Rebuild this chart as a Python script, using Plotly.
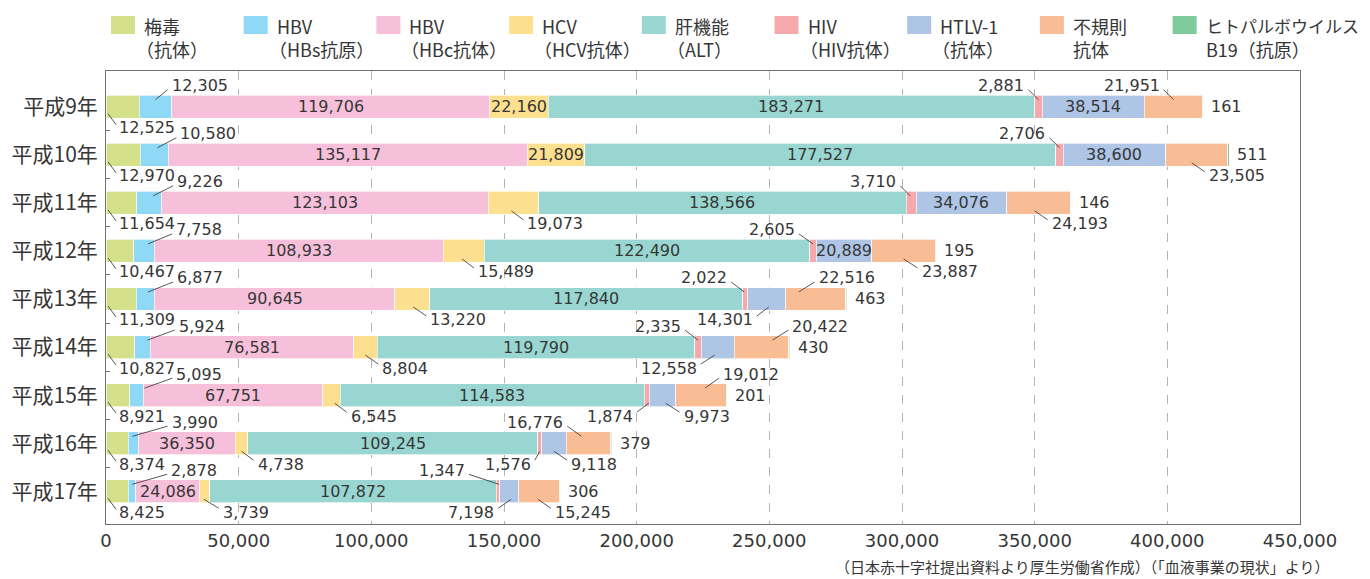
import plotly.graph_objects as go

# ---------------------------------------------------------------------------
# data (献血者の検査で不合格となった件数)

years = ['平成9年', '平成10年', '平成11年', '平成12年', '平成13年',
         '平成14年', '平成15年', '平成16年', '平成17年']

legend_top = ['梅毒', 'HBV', 'HBV', 'HCV', '肝機能', 'HIV', 'HTLV-1', '不規則', 'ヒトパルボウイルス']
legend_bottom = ['（抗体）', '（HBs抗原）', '（HBc抗体）', '（HCV抗体）', '（ALT）',
                 '（HIV抗体）', '（抗体）', '抗体', 'B19（抗原）']

syphilis = [12525, 12970, 11654, 10467, 11309, 10827, 8921, 8374, 8425]
hbs_antigen = [12305, 10580, 9226, 7758, 6877, 5924, 5095, 3990, 2878]
hbc_antibody = [119706, 135117, 123103, 108933, 90645, 76581, 67751, 36350, 24086]
hcv = [22160, 21809, 19073, 15489, 13220, 8804, 6545, 4738, 3739]
alt = [183271, 177527, 138566, 122490, 117840, 119790, 114583, 109245, 107872]
hiv = [2881, 2706, 3710, 2605, 2022, 2335, 1874, 1576, 1347]
htlv1 = [38514, 38600, 34076, 20889, 14301, 12558, 9973, 9118, 7198]
irregular = [21951, 23505, 24193, 23887, 22516, 20422, 19012, 16776, 15245]
parvo_b19 = [161, 511, 146, 195, 463, 430, 201, 379, 306]

series = [syphilis, hbs_antigen, hbc_antibody, hcv, alt, hiv, htlv1, irregular, parvo_b19]

colors = ['#d5e08b', '#8fd8f6', '#f7c0da', '#fde08f', '#99d6d2',
          '#f5a9ad', '#aec5e6', '#f9bd95', '#7fcb9b']

# where each value label goes: 'in' inside, 'rt' after bar end,
# ('b0',) below at the axis, (kind, start px, leader length px)
placement = [
    [('b0',), ('ar', 0, 12), 'in', 'in', 'in', ('al', 0, 10), 'in', ('al', 0, 10), 'rt'],
    [('b0',), ('ar', 3, 19), 'in', 'in', 'in', ('al', 0, 10), 'in', ('br', -5, 13), 'rt'],
    [('b0',), ('ar', 4, 20), 'in', ('br', -2, 12), 'in', ('al', -1, 10), 'in', ('br', -4, 13), 'rt'],
    [('b0',), ('ar', 4, 24), 'in', ('br', -2, 12), 'in', ('al', 0, 14), 'in', ('br', 0, 14), 'rt'],
    [('b0',), ('ar', 3, 25), 'in', ('br', 1, 13), 'in', ('al', -1, 13), ('bl', 2, 12), ('ar', -17, 16), 'rt'],
    [('b0',), ('ar', 5, 27), 'in', ('br', 0, 13), 'in', ('al', 0, 13), ('bl', -3, 14), ('ar', 11, 16), 'rt'],
    [('b0',), ('ar', 8, 28), 'in', ('br', 3, 12), 'in', ('bl', 2, 12), ('br', 3, 14), ('ar', 4, 14), 'rt'],
    [('b0',), ('ar', -1, 35), 'in', ('br', 0, 12), 'in', ('bl', 0, 5), ('br', 0, 13), ('al', -7, 14), 'rt'],
    [('b0',), ('ar', 0, 35), 'in', ('br', -1, 15), 'in', ('al', 1, 30), ('bl', 2, 13), ('br', -1, 13), 'rt'],
]

# ---------------------------------------------------------------------------

# the page puts the plot 8px in from the window corner
OFF = 8
W, H = 1370 - OFF, 579 - OFF
ML, MR, MT, MB = 106 - OFF, 70, 71 - OFF, 55
PW, PH = W - ML - MR, H - MT - MB

NUM_FONT = 'DejaVu Sans, Noto Sans CJK JP'
JP_FONT = 'Noto Sans CJK JP, DejaVu Sans'
TXT = '#363636'

rows = list(range(len(years)))

fig = go.Figure()
for vals, name, col in zip(series, legend_top, colors):
    fig.add_trace(go.Bar(y=rows, x=vals, orientation='h', name=name, width=0.478,
                         marker=dict(color=col, line=dict(width=0.8, color='rgba(255,255,255,0.8)')),
                         hoverinfo='x+name', showlegend=False))


def px2paper(px, py):
    # window pixel -> paper fraction
    return (px - OFF - ML) / PW, (MT + PH - (py - OFF)) / PH


annotations = []
shapes = []


def leader(xa, ya, sx0, sy0, sx1, sy1):
    # screen offsets (y down) -> pixel sizemode (y up)
    shapes.append(dict(type='line', xref='x', yref='y', xsizemode='pixel', ysizemode='pixel',
                       xanchor=xa, yanchor=ya, x0=sx0, x1=sx1, y0=-sy0, y1=-sy1,
                       line=dict(color='#444', width=0.9)))


def label(x, y, text, dx=0, dy=0, anchor='center'):
    annotations.append(dict(x=x, y=y, xref='x', yref='y', text=text, showarrow=False,
                            xanchor=anchor, yanchor='middle', xshift=dx, yshift=-dy,
                            font=dict(family=NUM_FONT, size=16, color=TXT)))


for r in rows:
    left = 0
    total = sum(s[r] for s in series)
    for k, vals in enumerate(series):
        v = vals[r]
        mid = left + v / 2
        txt = f'{v:,}'
        p = placement[r][k]
        if p == 'in':
            label(mid, r, txt)
        elif p == 'rt':
            label(total, r, txt, dx=6, anchor='left')
        elif p[0] == 'b0':
            leader(0, r, 2, 7, 10, 18)
            label(0, r, txt, dx=11, dy=21, anchor='left')
        else:
            kind, s, ln = p
            up = kind[0] == 'a'
            sign = 1 if kind[1] == 'r' else -1
            y0, y1, ty = (-7, -17, -21) if up else (8, 17, 21)
            leader(mid, r, s, y0, s + sign * ln, y1)
            label(mid, r, txt, dx=s + sign * (ln + 2), dy=ty,
                  anchor='left' if sign > 0 else 'right')
        left += v

# legend drawn by hand (big swatches, two-line captions)
for i, (t1, t2, col) in enumerate(zip(legend_top, legend_bottom, colors)):
    sx = 111 + 132.7 * i
    xa, ya = px2paper(sx, 16)
    xb, yb = px2paper(sx + 24, 34)
    shapes.append(dict(type='rect', xref='paper', yref='paper', x0=xa, x1=xb, y0=yb, y1=ya,
                       fillcolor=col, line=dict(width=0)))
    tx, ty1 = px2paper(sx + 31, 25.5)
    tx2, ty2 = px2paper(sx + 31 - (8 if t2.startswith('（') else 0), 49)
    fs = 17 if len(t1) > 6 else 18
    annotations.append(dict(x=tx, y=ty1, xref='paper', yref='paper', text=t1, showarrow=False,
                            xanchor='left', yanchor='middle',
                            font=dict(family=JP_FONT, size=fs, color=TXT)))
    annotations.append(dict(x=tx2, y=ty2, xref='paper', yref='paper', text=t2, showarrow=False,
                            xanchor='left', yanchor='middle',
                            font=dict(family=JP_FONT, size=18, color=TXT)))

sx, sy = px2paper(1331, 566)
annotations.append(dict(x=sx, y=sy, xref='paper', yref='paper', showarrow=False,
                        xanchor='right', yanchor='middle',
                        text='（日本赤十字社提出資料より厚生労働省作成）（「血液事業の現状」より）',
                        font=dict(family=JP_FONT, size=15, color=TXT)))

fig.update_layout(
    barmode='stack',
    width=W, height=H,
    margin=dict(l=ML, r=MR, t=MT, b=MB, autoexpand=False),
    paper_bgcolor='white', plot_bgcolor='white',
    annotations=annotations,
    shapes=shapes,
    showlegend=False,
    xaxis=dict(range=[0, 450000], tickvals=list(range(0, 450001, 50000)), tickformat=',',
               automargin=False,
               showgrid=True, gridcolor='#b5b5b5', griddash='dash', gridwidth=1,
               zeroline=False, showline=True, mirror=True, linecolor='#707070', linewidth=1,
               ticks='', tickfont=dict(family=NUM_FONT, size=18, color=TXT)),
    yaxis=dict(range=[8.68, -0.742], tickvals=rows, ticktext=years, automargin=False,
               showgrid=False, zeroline=False, showline=True, mirror=True,
               linecolor='#707070', linewidth=1, ticks='', ticklabelstandoff=3,
               minor=dict(tickvals=[r + 0.5 for r in rows[:-1]], ticks='inside',
                          ticklen=4, tickcolor='#707070', showgrid=False),
               tickfont=dict(family=JP_FONT, size=21, color=TXT)),
)

fig.write_html('out.html')
